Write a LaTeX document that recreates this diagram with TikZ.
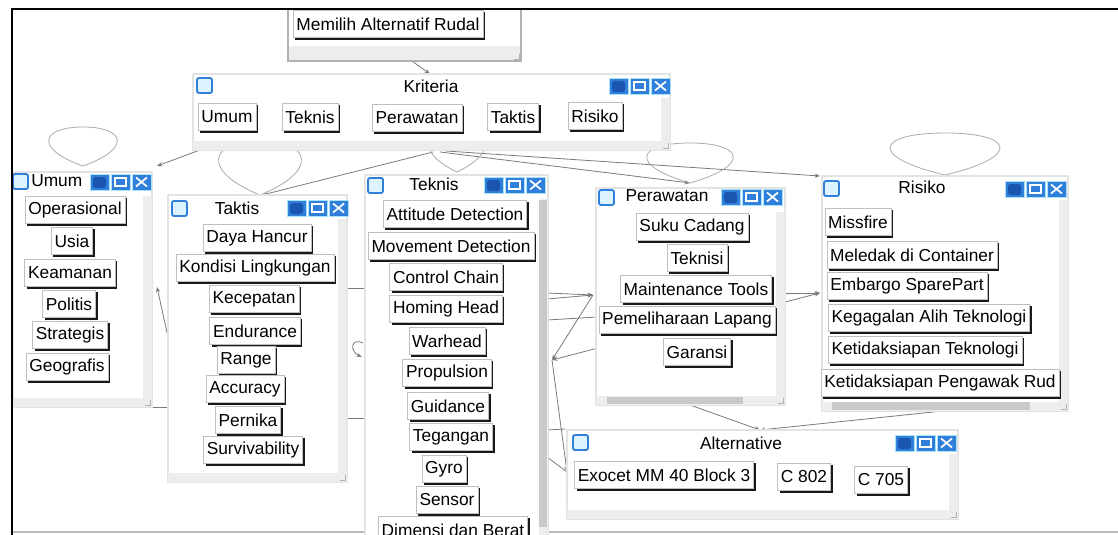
\documentclass[tikz,border=0pt]{standalone}
\usepackage{fontspec}
\setmainfont{Liberation Sans}
\usetikzlibrary{fit,shadows,arrows.meta}
\definecolor{iconblue}{HTML}{2F7FDB}
\definecolor{icondark}{HTML}{1A56B0}
\definecolor{iconlight}{HTML}{DDF3FF}
\definecolor{stripgray}{HTML}{EDEDED}
\definecolor{thumbgray}{HTML}{C9C9C9}
\definecolor{linegray}{HTML}{7A7A7A}
\tikzset{
  item/.style={draw=gray!50, fill=white, font=\fontsize{13pt}{15pt}\selectfont,
    inner xsep=2.5pt, inner ysep=0pt, minimum height=20.5pt,
    drop shadow={shadow xshift=1.6pt, shadow yshift=-1.6pt, fill=black, opacity=0.9}},
  winframe/.style={draw=gray!22, fill=white, inner sep=0pt, line width=0.8pt},
  wtitle/.style={font=\fontsize{13pt}{15pt}\selectfont, inner sep=0pt},
  conn/.style={draw=linegray, line width=0.6pt, -{Stealth[length=4pt,width=3.2pt]}},
  plainline/.style={draw=linegray, line width=0.6pt},
  loopline/.style={draw=gray!65, line width=0.6pt},
  lefticon/.pic={\draw[iconblue, line width=1.4pt, fill=iconlight, rounded corners=1.5pt] (0,0) rectangle (15,15);},
  righticons/.pic={
    \fill[iconblue] (0,0) rectangle (19,16);
    \fill[icondark, rounded corners=2pt] (3,3) rectangle (16,14);
    \fill[iconblue] (21,0) rectangle (40,16);
    \draw[white, line width=1pt] (25,4) rectangle (36,12);
    \fill[iconblue] (42,0) rectangle (61,16);
    \draw[white, line width=1.3pt] (46,3.5) -- (57,12.5) (46,12.5) -- (57,3.5);
    \draw[cyan!35, line width=0.4pt] (0,0) rectangle (19,16) (21,0) rectangle (40,16) (42,0) rectangle (61,16);
  }
}
% window: name, x1, y1, x2, y2
\newcommand\mkwin[5]{%
  \node[winframe, fit={(#2,#3) (#4,#5)}] (#1) {};
  \fill[stripgray] (#4-9,#3+24) rectangle (#4,#5);
  \fill[stripgray] (#2,#5-9) rectangle (#4,#5);
  \draw[gray!60, line width=0.6pt] (#4-7,#5-2) -- (#4-2,#5-2) -- (#4-2,#5-7);
}
% self loop: tip x, tip y, top y, half width
\newcommand\selfloop[4]{%
  \draw[loopline] (#1,#2) .. controls ({#1-1.3*#4},{#2-0.45*(#2-#3)}) and ({#1-1.1*#4},#3) .. (#1,#3)
    .. controls ({#1+1.1*#4},#3) and ({#1+1.3*#4},{#2-0.45*(#2-#3)}) .. (#1,#2);
}
\begin{document}
\begin{tikzpicture}[x=0.75pt, y=-0.75pt]
\useasboundingbox (0,0) rectangle (1118,535);
\fill[white] (0,0) rectangle (1118,535);

% ---------- connector end points ----------
\coordinate (gOut) at (412,61);
\coordinate (kIn) at (430,74);
\coordinate (kOutL) at (200,150);
\coordinate (kOutM) at (433,152);
\coordinate (kOutM2) at (440,152);
\coordinate (kOutM3) at (446,151);
\coordinate (uIn) at (157,166);
\coordinate (tkIn) at (262,195);
\coordinate (pIn) at (690,183);
\coordinate (rIn) at (820,176);
\coordinate (uOut) at (157,287);
\coordinate (tkOut) at (168,337);
\coordinate (uBr) at (152,407);
\coordinate (tkBl) at (168,407);
\coordinate (tkR1) at (347,288);
\coordinate (teL1) at (368,288);
\coordinate (tkR2) at (347,418);
\coordinate (teL2) at (368,418);
\coordinate (c1) at (363,343);
\coordinate (c2) at (362,357);
\coordinate (teR1) at (547,293);
\coordinate (teR2) at (547,299);
\coordinate (teR3) at (547,320);
\coordinate (teR4) at (547,430);
\coordinate (teR5) at (547,457);
\coordinate (pL1) at (593,295);
\coordinate (pL2) at (598,317);
\coordinate (pL3) at (598,348);
\coordinate (mid) at (552,360);
\coordinate (aL0) at (565,429);
\coordinate (aL) at (567,472);
\coordinate (pR1) at (785,293);
\coordinate (pR2) at (785,302);
\coordinate (rL) at (820,293);
\coordinate (pB) at (690,405);
\coordinate (rB) at (943,411);
\coordinate (aT) at (760,430);

% ---------- frame ----------
\draw[gray!55, line width=1pt] (12,532) -- (1118,532);

% ---------- connectors and loops ----------
\draw[conn] (gOut) -- (kIn);
\draw[conn] (kOutL) -- (uIn);
\draw[conn] (kOutM) -- (tkIn);
\draw[conn] (kOutM2) -- (pIn);
\draw[conn] (kOutM3) -- (rIn);
\selfloop{83}{166}{127}{38}
\selfloop{260}{195}{141}{46}
\selfloop{457}{172}{128}{32}
\selfloop{690}{183}{143}{48}
\selfloop{945}{175}{133}{61}
\draw[conn] (tkOut) -- (uOut);
\draw[plainline] (uBr) -- (tkBl);
\draw[plainline] (tkR1) -- (teL1);
\draw[plainline] (tkR2) -- (teL2);
\draw[conn] (c1) .. controls (350,337) and (350,352) .. (c2);
\draw[conn] (teR1) -- (pL1);
\draw[conn] (teR2) -- (pL1);
\draw[plainline] (teR3) -- (pL2);
\draw[conn] (pL1) -- (mid);
\draw[conn] (pL3) -- (mid);
\draw[conn] (mid) -- (aL);
\draw[plainline] (teR4) -- (aL0);
\draw[plainline] (teR5) -- (aL);
\draw[conn] (pR1) -- (rL);
\draw[conn] (pR2) -- (rL);
\draw[conn] (pB) -- (aT);
\draw[conn] (rB) -- (aT);

% ---------- windows ----------
\node[winframe, draw=gray!60, fit={(288,9) (521,61)}] (wGoal) {};
\fill[stripgray] (289,46) rectangle (520,60);
\draw[gray!60, line width=0.6pt] (514,59) -- (519,59) -- (519,54);

\mkwin{wKrit}{193}{74}{670}{150}
\mkwin{wUmum}{13}{172}{152}{407}
\mkwin{wTaktis}{168}{195}{347}{482}
\mkwin{wTeknis}{365}{175}{548}{545}
\mkwin{wPerawatan}{596}{188}{785}{405}
\mkwin{wRisiko}{822}{176}{1068}{411}
\mkwin{wAlt}{567}{430}{958}{519}
% scrollbar thumbs
\fill[thumbgray] (539,200) rectangle (547,527);
\fill[thumbgray] (607,397) rectangle (743,404);
\fill[thumbgray] (832,402) rectangle (1030,410);

% titles and icons
\node[wtitle] (tKrit) at (431,86) {Kriteria};
\pic at (197,78) {lefticon};
\pic at (609,78) {righticons};

\node[wtitle, anchor=west] (tUmum) at (31,181) {Umum};
\pic at (13,174) {lefticon};
\pic at (90,174) {righticons};

\node[wtitle] (tTaktis) at (237,208) {Taktis};
\pic at (172,201) {lefticon};
\pic at (287,200) {righticons};

\node[wtitle] (tTeknis) at (434,184) {Teknis};
\pic at (368,178) {lefticon};
\pic at (484,177) {righticons};

\node[wtitle] (tPerawatan) at (667,196) {Perawatan};
\pic at (599,190) {lefticon};
\pic at (721,189) {righticons};

\node[wtitle] (tRisiko) at (922,187) {Risiko};
\pic at (824,181) {lefticon};
\pic at (1005,181) {righticons};

\node[wtitle] (tAlt) at (741,443) {Alternative};
\pic at (573,435) {lefticon};
\pic at (895,435) {righticons};

% ---------- items ----------
\node[item] (goal) at (388,24) {Memilih Alternatif Rudal};

\node[item] (kUmum) at (227,117) {Umum};
\node[item] (kTeknis) at (310,117) {Teknis};
\node[item] (kPerawatan) at (417,118) {Perawatan};
\node[item] (kTaktis) at (513,117) {Taktis};
\node[item] (kRisiko) at (595,116) {Risiko};

\node[item] (u1) at (75,210) {Operasional};
\node[item] (u2) at (72,241) {Usia};
\node[item] (u3) at (70,273) {Keamanan};
\node[item] (u4) at (69,304) {Politis};
\node[item] (u5) at (70,335) {Strategis};
\node[item] (u6) at (67,367) {Geografis};

\node[item] (t1) at (257,238) {Daya Hancur};
\node[item] (t2) at (255,268) {Kondisi Lingkungan};
\node[item] (t3) at (254,299) {Kecepatan};
\node[item] (t4) at (255,331) {Endurance};
\node[item] (t5) at (246,360) {Range};
\node[item] (t6) at (245,389) {Accuracy};
\node[item] (t7) at (248,420) {Pernika};
\node[item] (t8) at (253,450) {Survivability};

\node[item] (e1) at (455,214) {Attitude Detection};
\node[item] (e2) at (451,246) {Movement Detection};
\node[item] (e3) at (446,277) {Control Chain};
\node[item] (e4) at (446,309) {Homing Head};
\node[item] (e5) at (447,341) {Warhead};
\node[item] (e6) at (447,373) {Propulsion};
\node[item] (e7) at (448,406) {Guidance};
\node[item] (e8) at (451,437) {Tegangan};
\node[item] (e9) at (444,469) {Gyro};
\node[item] (e10) at (447,500) {Sensor};
\node[item] (e11) at (453,530) {Dimensi dan Berat};

\node[item] (p1) at (692,227) {Suku Cadang};
\node[item] (p2) at (697,258) {Teknisi};
\node[item] (p3) at (696,289) {Maintenance Tools};
\node[item] (p4) at (687,320) {Pemeliharaan Lapang};
\node[item] (p5) at (697,352) {Garansi};

\node[item] (r1) at (858,222) {Missfire};
\node[item] (r2) at (912,255) {Meledak di Container};
\node[item] (r3) at (907,286) {Embargo SparePart};
\node[item] (r4) at (929,318) {Kegagalan Alih Teknologi};
\node[item] (r5) at (925,350) {Ketidaksiapan Teknologi};
\node[item] (r6) at (940,383) {Ketidaksiapan Pengawak Rud};

\node[item] (a1) at (664,475) {Exocet MM 40 Block 3};
\node[item] (a2) at (804,477) {C 802};
\node[item] (a3) at (881,480) {C 705};

% ---------- outer frame ----------
\draw[black, line width=1.6pt] (12,535) -- (12,9) -- (1118,9);
\end{tikzpicture}
\end{document}
